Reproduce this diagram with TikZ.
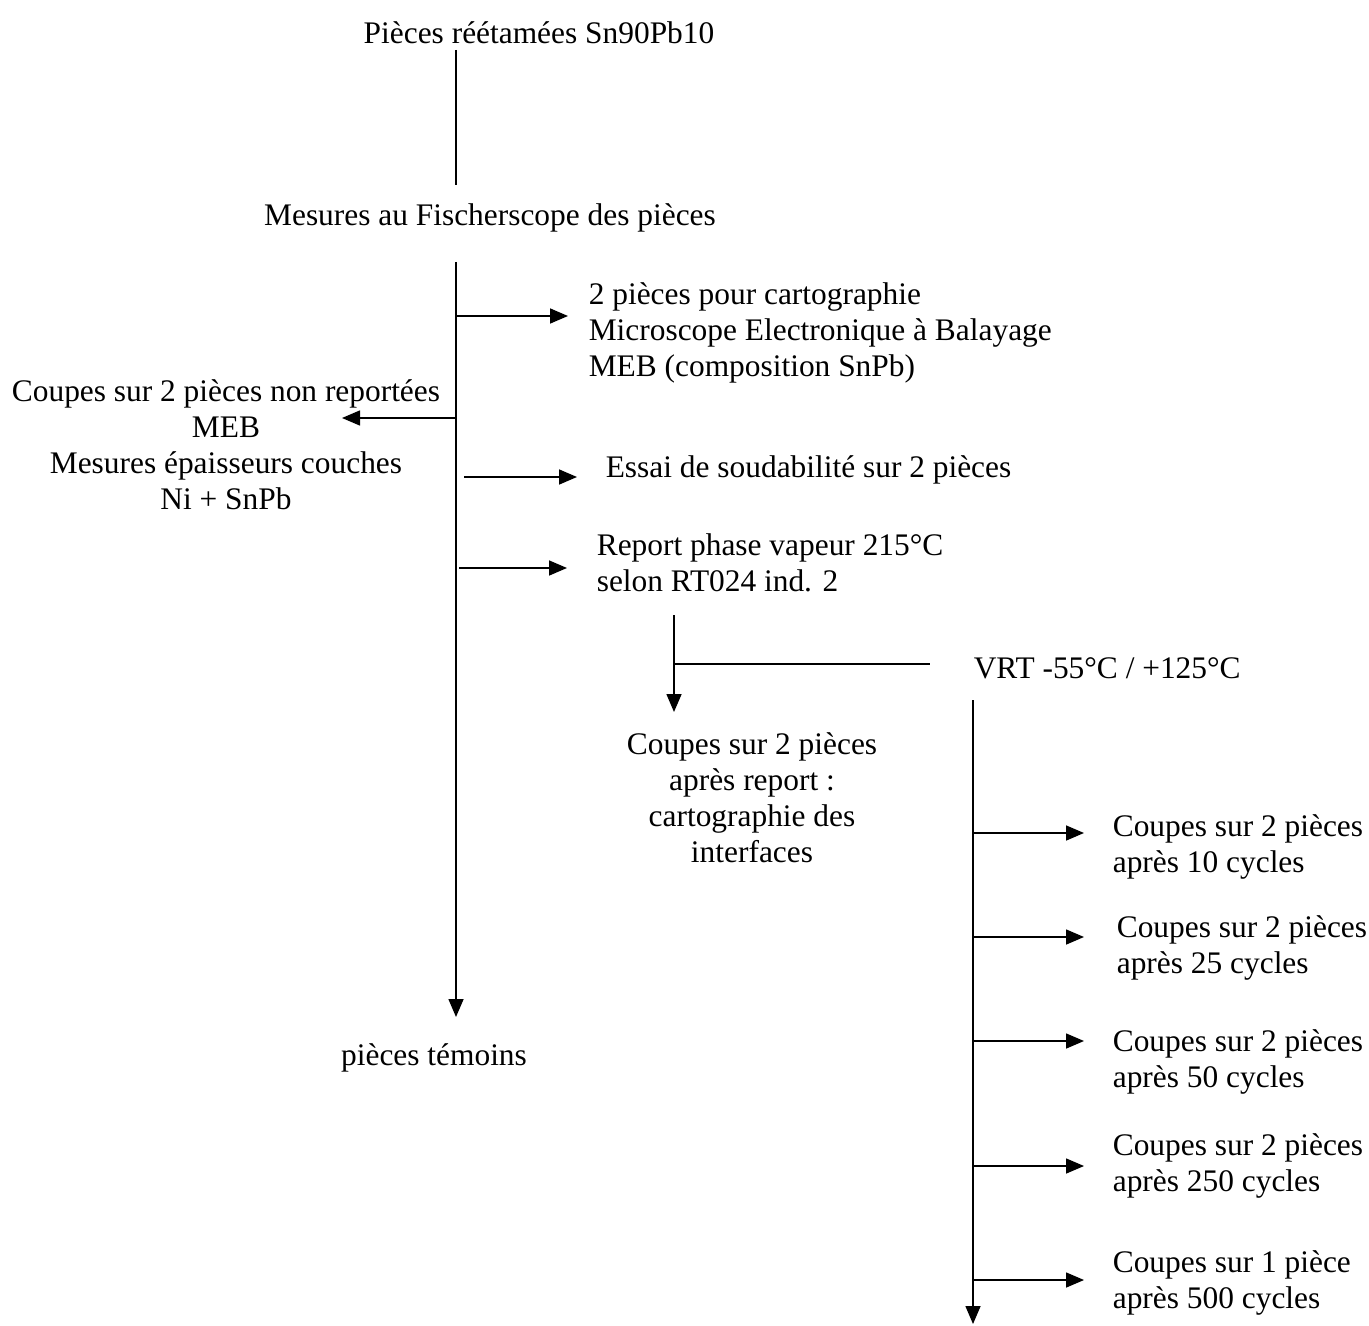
\documentclass[tikz,border=0pt]{standalone}
\usepackage{fontspec}
\setmainfont{Liberation Serif}
\usetikzlibrary{arrows.meta}

\begin{document}
\begin{tikzpicture}[x=0.5pt,y=-0.5pt,
  txt/.style={inner sep=0pt,font=\fontsize{15.7}{18}\selectfont},
  flow/.style={-{Triangle[length=9pt,width=7.5pt]}},
  every path/.style={line width=0.8pt}]
\useasboundingbox (0,0) rectangle (1369,1326);

% texts
\node[txt] (piec) at (539,33) {Pièces réétamées Sn90Pb10};
\node[txt] (fisch) at (490,218) {Mesures au Fischerscope des pièces};
\node[txt] (temoin) at (434,1058) {pièces témoins};
\node[txt,anchor=west,align=left] (carto) at (588,333)
  {2 pièces pour cartographie\\Microscope Electronique à Balayage\\MEB (composition SnPb)};
\node[txt,align=center] (nonrep) at (226,445)
  {Coupes sur 2 pièces non reportées\\MEB\\Mesures épaisseurs couches\\Ni + SnPb};
\node[txt,anchor=west] (soud) at (605,470) {Essai de soudabilité sur 2 pièces};
\node[txt,anchor=west,align=left] (report) at (596,563)
  {Report phase vapeur 215°C\\selon RT024 ind. 2};
\node[txt,anchor=west] (vrt) at (973,668) {VRT -55°C / +125°C};
\node[txt,align=center] (interf) at (752,798)
  {Coupes sur 2 pièces\\après report :\\cartographie des\\interfaces};

% main trunk
\coordinate (a0) at (456,50);
\coordinate (a1) at (456,185);
\coordinate (b0) at (456,262);
\coordinate (b1) at (456,1017);
\draw (a0) -- (a1);
\draw[flow] (b0) -- (b1);

% branches of the trunk
\coordinate (k1) at (456,316);
\coordinate (k2) at (456,418);
\coordinate (k3) at (464,477);
\coordinate (k4) at (459,568);
\draw[flow] (k1) -- ++(112,0);
\draw[flow] (k2) -- ++(-114,0);
\draw[flow] (k3) -- ++(113,0);
\draw[flow] (k4) -- ++(108,0);

% after report
\coordinate (r0) at (674,615);
\coordinate (r1) at (674,664);
\coordinate (r2) at (674,712);
\coordinate (r3) at (930,664);
\draw[flow] (r0) -- (r2);
\draw (r1) -- (r3);

% VRT trunk
\coordinate (v0) at (973,700);
\coordinate (v1) at (973,1324);
\draw[flow] (v0) -- (v1);

\foreach \y/\ty/\tx/\n/\p/\c in {833/847/1112/2/pièces/10,
    937/948/1116/2/pièces/25,
    1041/1062/1112/2/pièces/50,
    1166/1166/1112/2/pièces/250,
    1280/1283/1112/1/pièce/500}{
  \node[txt,anchor=west,align=left] (cyc\c) at (\tx,\ty)
    {Coupes sur \n\ \p\\après \c\ cycles};
  \draw[flow] (973,\y) -- (1084,\y);
}
\end{tikzpicture}
\end{document}
